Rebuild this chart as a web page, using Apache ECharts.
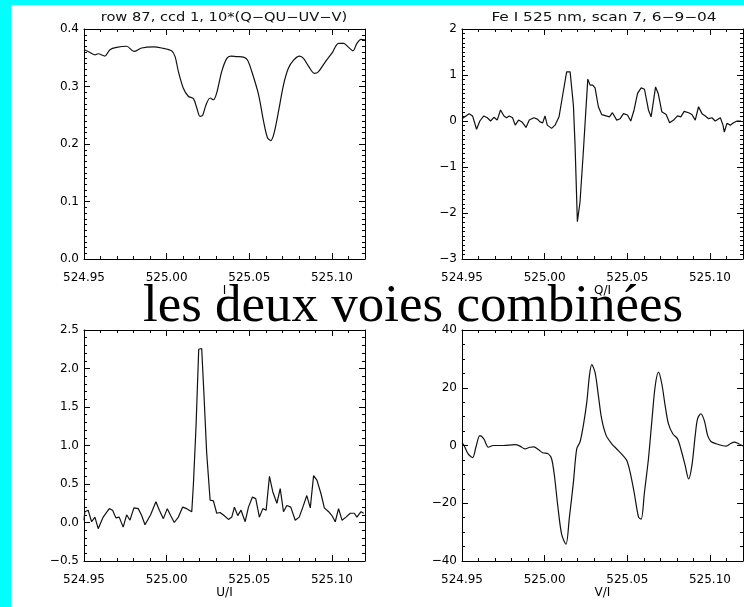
<!DOCTYPE html>
<html>
<head>
<meta charset="utf-8">
<script src="https://cdn.jsdelivr.net/npm/echarts@6/dist/echarts.min.js"></script>
<style>
  html, body { margin: 0; padding: 0; background: #ffffff; }
  #chart { width: 744px; height: 607px; }
</style>
</head>
<body>
<div id="chart"></div>
<script>
// ---- Spectra: wavelength (nm) and Stokes values ----
const iWave = [524.95, 524.9525, 524.9566, 524.9586, 524.9626, 524.9657, 524.9697, 524.9758, 524.9802, 524.9849,
  524.9919, 524.9970, 525.0030, 525.0051, 525.0071, 525.0101, 525.0131, 525.0162, 525.0182, 525.0202,
  525.0218, 525.0238, 525.0263, 525.0283, 525.0303, 525.0333, 525.0364, 525.0388, 525.0424, 525.0465,
  525.0489, 525.0515, 525.0556, 525.0586, 525.0610, 525.0630, 525.0650, 525.0677, 525.0707, 525.0737,
  525.0768, 525.0804, 525.0828, 525.0859, 525.0893, 525.0919, 525.0960, 525.1000, 525.1040, 525.1071,
  525.1101, 525.1127, 525.1151, 525.1176, 525.1200];
const iValue = [0.364, 0.361, 0.355, 0.357, 0.353, 0.364, 0.368, 0.370, 0.361, 0.367,
  0.369, 0.367, 0.362, 0.352, 0.326, 0.297, 0.283, 0.279, 0.263, 0.248,
  0.250, 0.268, 0.280, 0.277, 0.289, 0.326, 0.349, 0.353, 0.352, 0.351,
  0.346, 0.326, 0.286, 0.240, 0.211, 0.206, 0.219, 0.257, 0.303, 0.332,
  0.346, 0.353, 0.349, 0.335, 0.323, 0.326, 0.343, 0.358, 0.375, 0.375,
  0.368, 0.362, 0.375, 0.382, 0.381];

const qWave = [524.95, 524.9511, 524.9543, 524.9564, 524.9588, 524.9608, 524.9632, 524.9653, 524.9673, 524.9693,
  524.9713, 524.9733, 524.9754, 524.9770, 524.9786, 524.9806, 524.9822, 524.9842, 524.9863, 524.9887,
  524.9907, 524.9935, 524.9956, 524.9972, 524.9988, 525.0002, 525.0016, 525.0042, 525.0063, 525.0087,
  525.0109, 525.0133, 525.0154, 525.0174, 525.0184, 525.0198, 525.0214, 525.0234, 525.0261, 525.0275,
  525.0291, 525.0305, 525.0325, 525.0345, 525.0372, 525.0392, 525.0410, 525.0436, 525.0457, 525.0477,
  525.0501, 525.0521, 525.0541, 525.0562, 525.0584, 525.0604, 525.0628, 525.0644, 525.0659, 525.0671,
  525.0687, 525.0709, 525.0735, 525.0756, 525.0780, 525.0804, 525.0824, 525.0844, 525.0871, 525.0891,
  525.0911, 525.0931, 525.0952, 525.0972, 525.0992, 525.1012, 525.1032, 525.1063, 525.1079, 525.1087,
  525.1103, 525.1123, 525.1143, 525.1164, 525.1188];
const qValue = [0.05, 0.09, 0.16, 0.11, -0.18, 0.00, 0.11, 0.07, 0.00, 0.08,
  0.02, 0.24, 0.11, 0.07, 0.11, 0.07, -0.09, 0.02, -0.02, -0.14,
  0.02, 0.07, 0.04, -0.02, -0.04, 0.11, -0.09, -0.16, -0.09, 0.09,
  0.56, 1.07, 1.07, 0.34, -0.53, -2.19, -1.76, -0.67, 0.91, 0.78,
  0.78, 0.72, 0.31, 0.14, 0.11, 0.09, 0.18, 0.02, 0.05, 0.16,
  0.13, 0.00, 0.24, 0.60, 0.72, 0.69, 0.24, 0.09, 0.45, 0.74,
  0.60, 0.20, 0.14, -0.04, 0.02, 0.11, 0.09, 0.21, 0.18, 0.14,
  0.02, 0.31, 0.16, 0.11, 0.05, 0.07, 0.00, 0.07, -0.09, -0.24,
  -0.05, -0.09, -0.04, 0.00, 0.00];

const uWave = [524.95, 524.9505, 524.9525, 524.9546, 524.9566, 524.9586, 524.9616, 524.9653, 524.9673, 524.9693,
  524.9713, 524.9737, 524.9758, 524.9778, 524.9802, 524.9828, 524.9849, 524.9869, 524.9903, 524.9935,
  524.9956, 524.9980, 525.0004, 525.0024, 525.0046, 525.0071, 525.0097, 525.0121, 525.0152, 525.0162,
  525.0178, 525.0194, 525.0212, 525.0226, 525.0242, 525.0263, 525.0283, 525.0303, 525.0323, 525.0347,
  525.0374, 525.0394, 525.0410, 525.0430, 525.0450, 525.0475, 525.0495, 525.0519, 525.0539, 525.0561,
  525.0582, 525.0602, 525.0622, 525.0642, 525.0667, 525.0687, 525.0707, 525.0727, 525.0751, 525.0778,
  525.0802, 525.0824, 525.0848, 525.0869, 525.0889, 525.0909, 525.0933, 525.0954, 525.0980, 525.1000,
  525.1020, 525.1040, 525.1061, 525.1085, 525.1111, 525.1135, 525.1151, 525.1176, 525.1192];
const uValue = [0.03, 0.14, 0.16, 0.01, 0.07, -0.08, 0.07, 0.18, 0.16, 0.06,
  0.07, -0.06, 0.10, 0.03, 0.19, 0.18, 0.09, -0.03, 0.10, 0.27,
  0.16, 0.05, 0.18, 0.09, 0.00, 0.07, 0.20, 0.18, 0.14, 0.50,
  1.26, 2.25, 2.26, 1.65, 0.91, 0.29, 0.28, 0.12, 0.13, 0.09,
  0.04, 0.07, 0.20, 0.09, 0.16, 0.01, 0.20, 0.33, 0.31, 0.07,
  0.18, 0.16, 0.60, 0.40, 0.25, 0.44, 0.14, 0.22, 0.20, 0.03,
  0.07, 0.20, 0.35, 0.19, 0.61, 0.55, 0.38, 0.19, 0.14, 0.09,
  0.01, 0.18, 0.03, 0.07, 0.12, 0.12, 0.07, 0.14, 0.12];

const vWave = [524.95, 524.9511, 524.9537, 524.9564, 524.9584, 524.9608, 524.9632, 524.9659, 524.9689, 524.9750,
  524.9820, 524.9851, 524.9881, 524.9911, 524.9935, 524.9962, 524.9988, 525.0022, 525.0042, 525.0059,
  525.0079, 525.0103, 525.0129, 525.0149, 525.0174, 525.0194, 525.0214, 525.0234, 525.0255, 525.0271,
  525.0285, 525.0305, 525.0325, 525.0345, 525.0372, 525.0406, 525.0436, 525.0477, 525.0497, 525.0517,
  525.0541, 525.0568, 525.0584, 525.0604, 525.0628, 525.0648, 525.0669, 525.0689, 525.0709, 525.0729,
  525.0749, 525.0776, 525.0804, 525.0824, 525.0850, 525.0871, 525.0891, 525.0911, 525.0925, 525.0945,
  525.0966, 525.0986, 525.1006, 525.1038, 525.1073, 525.1099, 525.1123, 525.1147, 525.1174, 525.1200];
const vValue = [0.9, 0.2, -2.9, -4.2, -0.6, 3.4, 2.3, -0.6, 0.0, 0.0,
  0.3, -0.2, -1.2, -0.6, -0.5, -1.4, -2.5, -2.9, -4.6, -10.4,
  -20.7, -30.8, -34.2, -25.3, -12.7, -1.2, 1.2, 6.9, 15.0, 24.2,
  28.0, 25.3, 17.3, 9.2, 3.5, 0.6, -1.2, -3.7, -5.2, -9.2,
  -16.1, -24.8, -25.5, -16.1, -4.6, 8.1, 20.7, 25.4, 21.3, 13.8,
  7.5, 4.0, 2.3, -1.2, -6.9, -11.6, -6.9, 3.5, 9.2, 11.0,
  8.6, 3.5, 1.4, 0.6, 0.0, -0.2, 0.6, 1.2, 0.6, -0.2];

// Axis ranges and labels
const waveMin = 524.95, waveMax = 525.12, waveStep = 0.05;
const panelTitles = ['row 87, ccd 1, 10*(Q\u2212QU\u2212UV\u2212V)', 'Fe I 525 nm, scan 7, 6\u22129\u221204'];
const axisNames = ['I', 'Q/I', 'U/I', 'V/I'];
const bigCaption = 'les deux voies combinées';

// ---- Panel layout ----
const panels = [
  { wave: iWave, value: iValue, grid: { left: 84, top: 29, width: 281, height: 230 },
    yMin: 0, yMax: 0.4, yStep: 0.1, yMinor: 10, digits: 1, smooth: 0.3 },
  { wave: qWave, value: qValue, grid: { left: 462, top: 29, width: 281, height: 230 },
    yMin: -3, yMax: 2, yStep: 1, yMinor: 10, digits: 0, smooth: false },
  { wave: uWave, value: uValue, grid: { left: 84, top: 330, width: 281, height: 231 },
    yMin: -0.5, yMax: 2.5, yStep: 0.5, yMinor: 5, digits: 1, smooth: false },
  { wave: vWave, value: vValue, grid: { left: 462, top: 330, width: 281, height: 231 },
    yMin: -40, yMax: 40, yStep: 20, yMinor: 4, digits: 0, smooth: 0.3 }
];

const FONT = 'DejaVu Sans';
const fmtSigned = (v, d) => {
  const s = Math.abs(v).toFixed(d);
  return v < -1e-9 ? '\u2212' + s : s;
};

// one framed axis with inward major and minor ticks
function frameAxis(g, position, min, max, step, minorSplit, label, name) {
  const ax = {
    type: 'value', gridIndex: g, position: position,
    min: min, max: max, interval: step,
    axisLine: { show: true, onZero: false, lineStyle: { color: '#000', width: 1 } },
    axisTick: { show: true, inside: true, length: 6, lineStyle: { color: '#000', width: 1 } },
    splitLine: { show: false },
    axisLabel: label ? label : { show: false },
    minorTick: { show: true, splitNumber: minorSplit, length: 3, lineStyle: { color: '#000', width: 1 } },
    minorSplitLine: { show: false }
  };
  if (name) {
    ax.name = name;
    ax.nameLocation = 'middle';
    ax.nameGap = 25;
    ax.nameTextStyle = { color: '#000', fontFamily: FONT, fontSize: 12 };
  }
  return ax;
}

const grids = [], xAxes = [], yAxes = [], series = [];
panels.forEach((p, g) => {
  grids.push({ left: p.grid.left, top: p.grid.top, width: p.grid.width, height: p.grid.height });
  xAxes.push(frameAxis(g, 'bottom', waveMin, waveMax, waveStep, 5,
    { show: true, margin: 13, color: '#000', fontFamily: FONT, fontSize: 12, formatter: v => v.toFixed(2) },
    axisNames[g]));
  xAxes.push(frameAxis(g, 'top', waveMin, waveMax, waveStep, 5, null, null));
  yAxes.push(frameAxis(g, 'left', p.yMin, p.yMax, p.yStep, p.yMinor,
    { show: true, margin: 5, color: '#000', fontFamily: FONT, fontSize: 12, formatter: v => fmtSigned(v, p.digits) },
    null));
  yAxes.push(frameAxis(g, 'right', p.yMin, p.yMax, p.yStep, p.yMinor, null, null));

  series.push({
    type: 'line', xAxisIndex: 2 * g, yAxisIndex: 2 * g,
    data: p.wave.map((w, i) => [w, p.value[i]]),
    showSymbol: false, smooth: p.smooth,
    lineStyle: { color: '#111', width: 1.2 }
  });
});

const chart = echarts.init(document.getElementById('chart'));
chart.setOption({
  animation: false,
  grid: grids, xAxis: xAxes, yAxis: yAxes, series: series,
  graphic: [
    // cyan slide frame
    { type: 'rect', shape: { x: 0, y: 0, width: 744, height: 5 }, style: { fill: '#00ffff' } },
    { type: 'rect', shape: { x: 0, y: 0, width: 11, height: 607 }, style: { fill: '#00ffff' } },
    // panel titles
    { type: 'text', x: 224, y: 18, scaleX: 1.22,
      style: { text: panelTitles[0], font: '12px "DejaVu Sans"', fill: '#111', align: 'center', verticalAlign: 'middle' } },
    { type: 'text', x: 604, y: 18, scaleX: 1.28,
      style: { text: panelTitles[1], font: '12px "DejaVu Sans"', fill: '#111', align: 'center', verticalAlign: 'middle' } },
    // caption across the middle
    { type: 'text', x: 413, y: 307, z: 100,
      style: { text: bigCaption, font: '53px "Liberation Serif"', fill: '#000', align: 'center', verticalAlign: 'middle' } }
  ]
});
</script>
</body>
</html>
